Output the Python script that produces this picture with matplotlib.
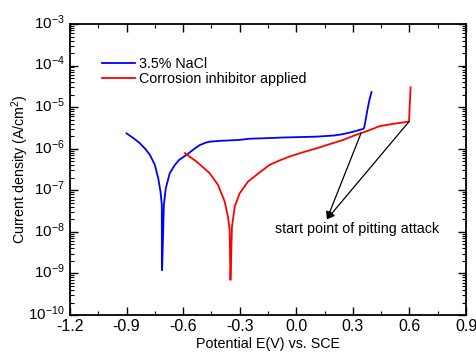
import matplotlib
matplotlib.use("Agg")
import matplotlib.pyplot as plt
import matplotlib.transforms as mtransforms
from matplotlib.ticker import MultipleLocator, NullFormatter, FixedLocator

plt.rcParams['font.family'] = ['Liberation Sans', 'DejaVu Sans']
plt.rcParams['mathtext.fontset'] = 'custom'
plt.rcParams['mathtext.rm'] = 'Liberation Sans'
plt.rcParams['mathtext.it'] = 'Liberation Sans:italic'

# Blue: 3.5% NaCl
nacl_E = [-0.900, -0.860, -0.829, -0.800, -0.776, -0.750, -0.732, -0.720, -0.713, -0.7125, -0.7115,
          -0.702, -0.692, -0.671, -0.645, -0.621, -0.582, -0.540, -0.511, -0.480, -0.458, -0.400,
          -0.308, -0.247, -0.150, -0.071, 0.106, 0.200, 0.247, 0.300, 0.335, 0.355, 0.360,
          0.368, 0.378, 0.388, 0.399]
nacl_I = [2.34e-6, 1.75e-6, 1.35e-6, 9.8e-7, 7.1e-7, 4.1e-7, 1.95e-7, 9.3e-8, 4.5e-8, 1.2e-9, 1.2e-9,
          4.5e-8, 1.12e-7, 2.57e-7, 4.0e-7, 5.4e-7, 7.1e-7, 1.0e-6, 1.23e-6, 1.40e-6, 1.48e-6, 1.55e-6,
          1.62e-6, 1.74e-6, 1.80e-6, 1.86e-6, 1.95e-6, 2.08e-6, 2.24e-6, 2.55e-6, 2.82e-6, 3.0e-6, 3.2e-6,
          5.0e-6, 9.0e-6, 1.5e-5, 2.3e-5]

# Red: corrosion inhibitor applied
inh_E = [-0.591, -0.560, -0.529, -0.495, -0.459, -0.415, -0.380, -0.362, -0.353, -0.3495, -0.3485,
         -0.341, -0.326, -0.300, -0.256, -0.194, -0.141, -0.090, -0.035, 0.035, 0.106, 0.180,
         0.247, 0.310, 0.379, 0.443, 0.520, 0.598, 0.601, 0.604, 0.606]
inh_I = [7.8e-7, 6.2e-7, 4.9e-7, 3.6e-7, 2.57e-7, 1.35e-7, 5.4e-8, 2.3e-8, 1.1e-8, 7.0e-10, 7.0e-10,
         1.35e-8, 4.1e-8, 8.5e-8, 1.62e-7, 2.7e-7, 4.1e-7, 5.2e-7, 6.5e-7, 8.2e-7, 1.02e-6, 1.3e-6,
         1.62e-6, 2.1e-6, 2.7e-6, 3.5e-6, 4.0e-6, 4.5e-6, 1.0e-5, 1.8e-5, 3.0e-5]

# Annotation
arrow_tail_E = [0.344, 0.598]
arrow_tail_I = [2.4e-6, 4.5e-6]
arrow_head = (0.162, 2.0e-8)
annot_text = "start point of pitting attack"
annot_pos = (0.324, 1.15e-8)

x_ticks = [-1.2, -0.9, -0.6, -0.3, 0.0, 0.3, 0.6, 0.9]
y_exponents = [-10, -9, -8, -7, -6, -5, -4, -3]

fig = plt.figure(figsize=(4.76, 3.58), dpi=100)
ax = fig.add_axes([0.147, 0.120, 0.832, 0.813])

ax.plot(nacl_E, nacl_I, color='#0000ff', lw=1.3, label='3.5% NaCl')
ax.plot(inh_E, inh_I, color='#ff0000', lw=1.3, label='Corrosion inhibitor applied')

for e, i in zip(arrow_tail_E, arrow_tail_I):
    ax.annotate('', xy=arrow_head, xytext=(e, i),
                arrowprops=dict(arrowstyle='-|>', color='black', lw=0.9,
                                mutation_scale=11, shrinkA=0, shrinkB=0))
ax.text(annot_pos[0], annot_pos[1], annot_text, ha='center', va='center', fontsize=10.3)

ax.set_yscale('log')
ax.set_xlim(-1.2, 0.9)
ax.set_ylim(1e-10, 1e-3)
ax.set_xticks(x_ticks)
ax.set_xticklabels([f"{t:.1f}" for t in x_ticks])
ax.xaxis.set_minor_locator(MultipleLocator(0.15))
ax.set_yticks([10.0 ** k for k in y_exponents])
ax.set_yticklabels([f"$10^{{{k}}}$" for k in y_exponents])
minors = [m * 10.0 ** k for k in y_exponents[:-1] for m in range(2, 10)]
ax.yaxis.set_minor_locator(FixedLocator(minors))
ax.yaxis.set_minor_formatter(NullFormatter())

ax.tick_params(which='both', direction='in', top=True, right=True)
ax.tick_params(axis='y', labelsize=11)
ax.tick_params(axis='x', labelsize=11.5, pad=3)
ax.tick_params(which='major', length=6, width=1.0)
ax.tick_params(which='minor', length=3, width=0.8)
for s in ax.spines.values():
    s.set_linewidth(1.3)

# lift y tick labels so the base "10" sits on the tick, like the reference
shift = mtransforms.ScaledTranslation(0, 3 / 100, fig.dpi_scale_trans)
for lbl in ax.get_yticklabels():
    lbl.set_transform(lbl.get_transform() + shift)

ax.set_xlabel('Potential E(V) vs. SCE', fontsize=10.3)
ax.xaxis.set_label_coords(0.5, -0.076)
ax.set_ylabel('Current density (A/cm$^2$)', fontsize=10.3)
ax.yaxis.set_label_coords(-0.099, 0.5)

ax.legend(loc='upper left', bbox_to_anchor=(0.081, 0.888), frameon=False, fontsize=10.3,
          handlelength=2.3, handletextpad=0.28, labelspacing=0.1, borderaxespad=0, borderpad=0)

fig.savefig('out.png', dpi=100)
